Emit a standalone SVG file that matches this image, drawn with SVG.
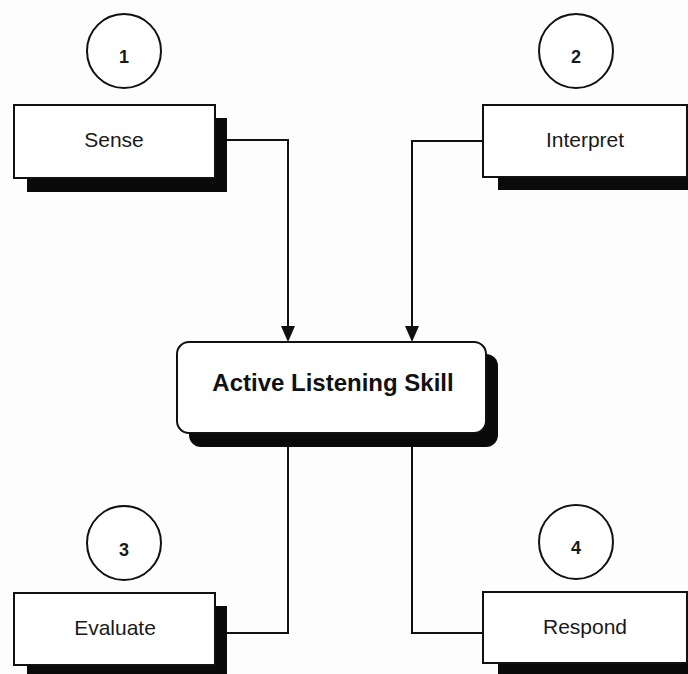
<svg xmlns="http://www.w3.org/2000/svg" width="688" height="674" viewBox="0 0 688 674">
<style>
.box{fill:#fff;stroke:#111;stroke-width:2}
.sh{fill:#0a0a0a}
.circ{fill:#fff;stroke:#111;stroke-width:2}
.lbl{font-family:"Liberation Sans",Arial,sans-serif;font-size:21px;fill:#1a1a1a;text-anchor:middle}
.num{font-family:"Liberation Sans",Arial,sans-serif;font-size:18px;font-weight:bold;fill:#1a1a1a;text-anchor:middle}
.main{font-family:"Liberation Sans",Arial,sans-serif;font-size:24px;font-weight:bold;fill:#111;text-anchor:middle}
.con{fill:none;stroke:#111;stroke-width:2}
</style>
<rect width="688" height="674" fill="#fdfdfd"/>
<g id="connectors">
<path class="con" d="M227,140 H288 V326"/>
<path d="M281,326 L295,326 L288,342 Z" fill="#111"/>
<path class="con" d="M483,141 H412 V326"/>
<path d="M405,326 L419,326 L412,342 Z" fill="#111"/>
<path class="con" d="M288,440 V633 H227"/>
<path class="con" d="M412,440 V633 H483"/>
</g>
<g id="node-center">
<rect class="sh" x="189" y="354" width="309" height="93" rx="12"/>
<rect class="box" x="177" y="342" width="309" height="91" rx="12"/>
<text class="main" x="333" y="391">Active Listening Skill</text>
</g>
<g id="node-sense">
<circle class="circ" cx="124" cy="51" r="37"/>
<text class="num" x="124" y="63">1</text>
<rect class="sh" x="27" y="118" width="200" height="74"/>
<rect class="box" x="14" y="105" width="201" height="73"/>
<text class="lbl" x="114" y="147">Sense</text>
</g>
<g id="node-interpret">
<circle class="circ" cx="576" cy="51" r="37"/>
<text class="num" x="576" y="63">2</text>
<rect class="sh" x="498" y="118" width="200" height="72"/>
<rect class="box" x="483" y="105" width="204" height="72"/>
<text class="lbl" x="585" y="147">Interpret</text>
</g>
<g id="node-evaluate">
<circle class="circ" cx="124" cy="543" r="37"/>
<text class="num" x="124" y="556">3</text>
<rect class="sh" x="27" y="606" width="200" height="74"/>
<rect class="box" x="14" y="593" width="201" height="72"/>
<text class="lbl" x="115" y="635">Evaluate</text>
</g>
<g id="node-respond">
<circle class="circ" cx="576" cy="542" r="37"/>
<text class="num" x="576" y="554">4</text>
<rect class="sh" x="498" y="605" width="200" height="74"/>
<rect class="box" x="483" y="592" width="204" height="71"/>
<text class="lbl" x="585" y="634">Respond</text>
</g>
</svg>
